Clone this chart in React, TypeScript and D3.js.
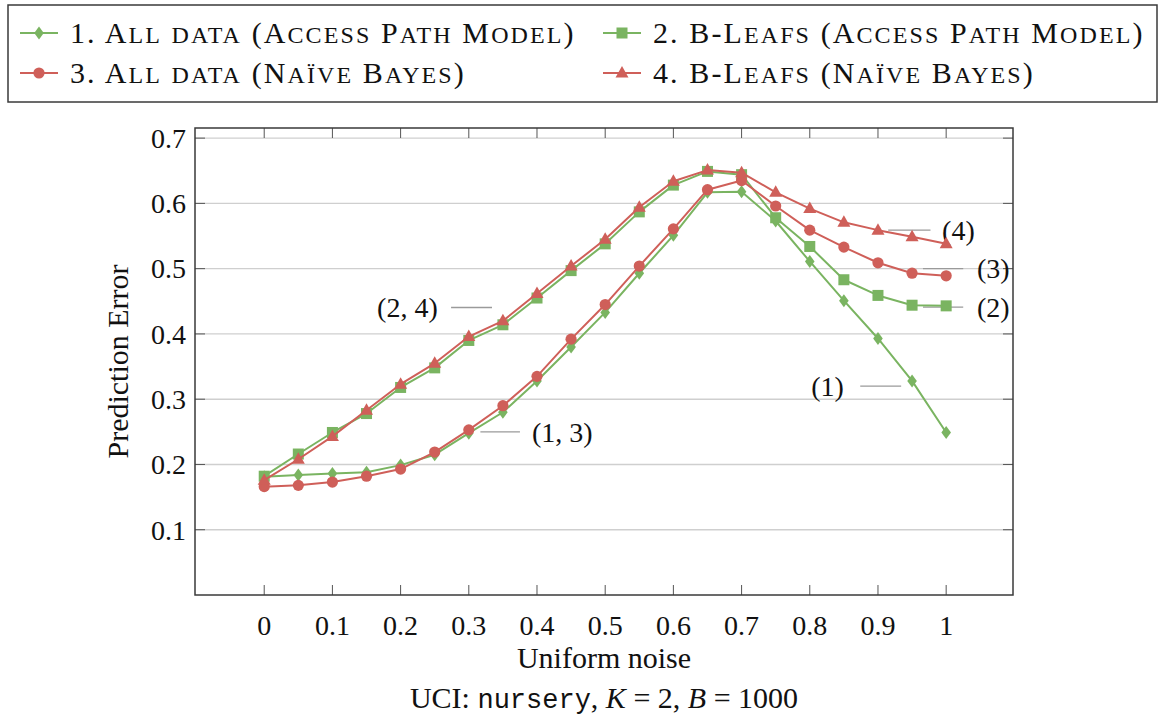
import React from "react";
import * as d3 from "d3";

// Noise levels on the x axis
const noise = [0, 0.05, 0.1, 0.15, 0.2, 0.25, 0.3, 0.35, 0.4, 0.45, 0.5, 0.55, 0.6, 0.65, 0.7, 0.75, 0.8, 0.85, 0.9, 0.95, 1.0];

// Prediction error per series
const allDataAPM = [0.181, 0.184, 0.186, 0.188, 0.199, 0.215, 0.248, 0.28, 0.328, 0.38, 0.433, 0.493, 0.551, 0.617, 0.618, 0.573, 0.511, 0.451, 0.393, 0.328, 0.249];
const bLeafsAPM = [0.182, 0.216, 0.249, 0.278, 0.318, 0.348, 0.39, 0.414, 0.455, 0.497, 0.538, 0.587, 0.628, 0.649, 0.644, 0.578, 0.534, 0.483, 0.459, 0.444, 0.443];
const allDataNB = [0.166, 0.168, 0.173, 0.182, 0.193, 0.219, 0.253, 0.29, 0.335, 0.392, 0.445, 0.504, 0.561, 0.621, 0.635, 0.596, 0.559, 0.533, 0.509, 0.493, 0.489];
const bLeafsNB = [0.176, 0.208, 0.243, 0.283, 0.323, 0.355, 0.396, 0.42, 0.462, 0.504, 0.545, 0.594, 0.634, 0.651, 0.647, 0.617, 0.592, 0.571, 0.559, 0.549, 0.538];

const xTicks = [0, 0.1, 0.2, 0.3, 0.4, 0.5, 0.6, 0.7, 0.8, 0.9, 1];
const yTicks = [0.1, 0.2, 0.3, 0.4, 0.5, 0.6, 0.7];

const GREEN = "#7ab461";
const RED = "#cf5f59";

type Marker = "diamond" | "square" | "circle" | "triangle";

const series = [
  { name: "1. All data (Access Path Model)", values: allDataAPM, color: GREEN, marker: "diamond" as Marker },
  { name: "2. B-Leafs (Access Path Model)", values: bLeafsAPM, color: GREEN, marker: "square" as Marker },
  { name: "3. All data (Naïve Bayes)", values: allDataNB, color: RED, marker: "circle" as Marker },
  { name: "4. B-Leafs (Naïve Bayes)", values: bLeafsNB, color: RED, marker: "triangle" as Marker },
];

// Pin labels: leader line from x0 to x1 at value y, text centred at tx
const pins = [
  { label: "(4)", y: 0.559, x0: 0.915, x1: 0.977, tx: 1.018 },
  { label: "(3)", y: 0.5, x0: 0.966, x1: 1.025, tx: 1.069 },
  { label: "(2)", y: 0.441, x0: 0.966, x1: 1.025, tx: 1.069 },
  { label: "(1)", y: 0.32, x0: 0.874, x1: 0.934, tx: 0.826 },
  { label: "(1, 3)", y: 0.25, x0: 0.317, x1: 0.375, tx: 0.437 },
  { label: "(2, 4)", y: 0.4405, x0: 0.274, x1: 0.334, tx: 0.21 },
];

const W = 1165;
const H = 717;
const plot = { left: 195, right: 1013, top: 128, bottom: 595 };

const x = d3.scaleLinear().domain([-0.1015, 1.098]).range([plot.left, plot.right]);
const y = d3.scaleLinear().domain([0, 0.7155]).range([plot.bottom, plot.top]);

const SERIF = "'Liberation Serif', 'Times New Roman', serif";

function MarkerShape({ kind, cx, cy, color }: { kind: Marker; cx: number; cy: number; color: string }) {
  switch (kind) {
    case "diamond":
      return <path d={`M${cx},${cy - 6.5}L${cx + 4.8},${cy}L${cx},${cy + 6.5}L${cx - 4.8},${cy}Z`} fill={color} />;
    case "square":
      return <rect x={cx - 5.5} y={cy - 5.5} width={11} height={11} fill={color} />;
    case "circle":
      return <circle cx={cx} cy={cy} r={5.6} fill={color} />;
    case "triangle":
      return <path d={`M${cx},${cy - 7}L${cx + 6.5},${cy + 4.5}L${cx - 6.5},${cy + 4.5}Z`} fill={color} />;
  }
}

// Small caps: lowercase runs are drawn as reduced capitals
function SmallCaps({ text, size }: { text: string; size: number }) {
  const runs: { s: string; lower: boolean }[] = [];
  for (const ch of text) {
    const lower = ch !== ch.toUpperCase();
    const last = runs[runs.length - 1];
    if (last && last.lower === lower) last.s += ch;
    else runs.push({ s: ch, lower });
  }
  return (
    <>
      {runs.map((r, i) =>
        r.lower ? (
          <tspan key={i} fontSize={size * 0.8}>
            {r.s.toUpperCase()}
          </tspan>
        ) : (
          <tspan key={i} fontSize={size}>
            {r.s}
          </tspan>
        )
      )}
    </>
  );
}

export default function App() {
  const line = d3
    .line<number>()
    .x((_, i) => x(noise[i]))
    .y((v) => y(v));

  const legendPos = [
    { lx: 20, ty: 33 },
    { lx: 603, ty: 33 },
    { lx: 20, ty: 73 },
    { lx: 603, ty: 73 },
  ];

  const tickLen = 10;
  const frameColor = "#3a3a3a";

  return (
    <svg
      width={W}
      height={H}
      viewBox={`0 0 ${W} ${H}`}
      style={{ position: "absolute", left: 0, top: 0, background: "#fff" }}
      fontFamily={SERIF}
    >
      {/* Legend */}
      <rect x={8} y={5} width={1149} height={97} fill="#fff" stroke={frameColor} strokeWidth={1.5} />
      {series.map((s, i) => {
        const p = legendPos[i];
        return (
          <g key={s.name}>
            <line x1={p.lx} x2={p.lx + 38} y1={p.ty} y2={p.ty} stroke={s.color} strokeWidth={2} />
            <MarkerShape kind={s.marker} cx={p.lx + 19} cy={p.ty} color={s.color} />
            <text x={p.lx + 50} y={p.ty + 10} fontSize={30} letterSpacing={2.1} fill="#111">
              <SmallCaps text={s.name} size={30} />
            </text>
          </g>
        );
      })}

      {/* Horizontal grid */}
      {yTicks.map((t) => (
        <line key={`g${t}`} x1={plot.left} x2={plot.right} y1={y(t)} y2={y(t)} stroke="#cfcfcf" strokeWidth={1.4} />
      ))}

      {/* Ticks on all four sides, pointing inward */}
      {xTicks.map((t) => (
        <g key={`xt${t}`} stroke="#555" strokeWidth={1}>
          <line x1={x(t)} x2={x(t)} y1={plot.bottom} y2={plot.bottom - tickLen} />
          <line x1={x(t)} x2={x(t)} y1={plot.top} y2={plot.top + tickLen} />
        </g>
      ))}
      {yTicks.map((t) => (
        <g key={`yt${t}`} stroke="#555" strokeWidth={1}>
          <line x1={plot.left} x2={plot.left + tickLen} y1={y(t)} y2={y(t)} />
          <line x1={plot.right} x2={plot.right - tickLen} y1={y(t)} y2={y(t)} />
        </g>
      ))}

      {/* Leader lines and pin labels */}
      {pins.map((p) => (
        <g key={p.label}>
          <line x1={x(p.x0)} x2={x(p.x1)} y1={y(p.y)} y2={y(p.y)} stroke="#9a9a9a" strokeWidth={1.4} />
          <text x={x(p.tx)} y={y(p.y)} dy="0.35em" textAnchor="middle" fontSize={28} fill="#111">
            {p.label}
          </text>
        </g>
      ))}

      {/* Series */}
      {series.map((s) => (
        <g key={`s${s.name}`}>
          <path d={line(s.values) || ""} fill="none" stroke={s.color} strokeWidth={2} strokeLinejoin="round" />
          {s.values.map((v, i) => (
            <MarkerShape key={i} kind={s.marker} cx={x(noise[i])} cy={y(v)} color={s.color} />
          ))}
        </g>
      ))}

      {/* Frame */}
      <rect
        x={plot.left}
        y={plot.top}
        width={plot.right - plot.left}
        height={plot.bottom - plot.top}
        fill="none"
        stroke={frameColor}
        strokeWidth={1.5}
      />

      {/* Tick labels */}
      {xTicks.map((t) => (
        <text key={`xl${t}`} x={x(t)} y={625} dy="0.35em" textAnchor="middle" fontSize={28} fill="#111">
          {String(t)}
        </text>
      ))}
      {yTicks.map((t) => (
        <text key={`yl${t}`} x={186} y={y(t)} dy="0.35em" textAnchor="end" fontSize={28} fill="#111">
          {t.toFixed(1)}
        </text>
      ))}

      {/* Axis titles */}
      <text
        transform={`translate(117,${(plot.top + plot.bottom) / 2}) rotate(-90)`}
        dy="0.35em"
        textAnchor="middle"
        fontSize={30}
        fill="#111"
      >
        Prediction Error
      </text>
      <text x={(plot.left + plot.right) / 2} y={657} dy="0.35em" textAnchor="middle" fontSize={30} fill="#111">
        Uniform noise
      </text>
      <text x={(plot.left + plot.right) / 2} y={697} dy="0.35em" textAnchor="middle" fontSize={30} fill="#111">
        UCI:{" "}
        <tspan fontFamily="'Liberation Mono', 'DejaVu Sans Mono', monospace" fontSize={27}>
          nursery
        </tspan>
        ,{" "}
        <tspan fontStyle="italic">K</tspan> = 2,{" "}
        <tspan fontStyle="italic">B</tspan> = 1000
      </text>
    </svg>
  );
}
